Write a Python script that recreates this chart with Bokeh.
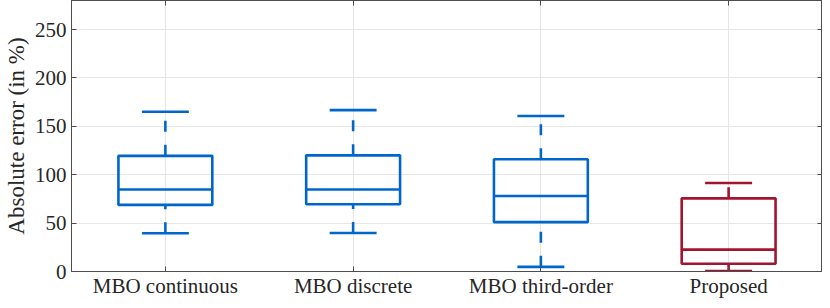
from bokeh.plotting import figure
from bokeh.models import LinearAxis, FixedTicker, Range1d, ColumnDataSource
from bokeh.embed import file_html
from bokeh.resources import INLINE

categories = ["MBO continuous", "MBO discrete", "MBO third-order", "Proposed"]
positions = [1, 2, 3, 4]
whisker_low = [39.5, 39.8, 4.8, 0.5]
q1 = [68.8, 69.5, 51.0, 8.0]
median = [84.7, 84.7, 78.0, 22.6]
q3 = [119.5, 120.0, 116.0, 75.6]
whisker_high = [165.0, 166.7, 160.6, 91.4]
colors = ["#0066cc", "#0066cc", "#0066cc", "#a2142f"]
y_ticks = [0, 50, 100, 150, 200, 250]

FONT = "Liberation Serif"
AX = "#4d4d4d"

p = figure(width=822, height=300, output_backend="svg", toolbar_location=None,
           x_range=Range1d(0.5, 4.5), y_range=Range1d(0, 280),
           min_border_left=0, min_border_right=0, min_border_top=0, min_border_bottom=0)
p.background_fill_color = "white"
p.outline_line_color = AX
p.outline_line_width = 1

src = ColumnDataSource(dict(x=positions, lo=whisker_low, q1=q1, med=median, q3=q3,
                            hi=whisker_high, c=colors,
                            xl=[v - 0.25 for v in positions], xr=[v + 0.25 for v in positions],
                            cl=[v - 0.125 for v in positions], cr=[v + 0.125 for v in positions]))

# whiskers (dashed)
p.segment(x0="x", y0="lo", x1="x", y1="q1", source=src, line_color="c", line_width=2.6,
          line_dash="11 13", line_cap="butt")
p.segment(x0="x", y0="q3", x1="x", y1="hi", source=src, line_color="c", line_width=2.6,
          line_dash="11 13", line_cap="butt")
# caps
p.segment(x0="cl", y0="lo", x1="cr", y1="lo", source=src, line_color="c", line_width=2.6)
p.segment(x0="cl", y0="hi", x1="cr", y1="hi", source=src, line_color="c", line_width=2.6)
# boxes
p.quad(left="xl", right="xr", bottom="q1", top="q3", source=src, fill_color=None,
       line_color="c", line_width=2.6)
# medians
p.segment(x0="xl", y0="med", x1="xr", y1="med", source=src, line_color="c", line_width=2.6)

# axes styling
p.xaxis.ticker = FixedTicker(ticks=positions)
p.xaxis.major_label_overrides = {pos: lab for pos, lab in zip(positions, categories)}
p.yaxis.ticker = FixedTicker(ticks=y_ticks)
p.yaxis.axis_label = "Absolute error (in %)"
for ax in (p.xaxis[0], p.yaxis[0]):
    ax.axis_line_color = AX
    ax.major_tick_line_color = AX
    ax.major_tick_in = 5
    ax.major_tick_out = 0
    ax.minor_tick_line_color = None
    ax.major_label_text_font = FONT
    ax.major_label_text_font_size = "21px"
    ax.major_label_text_color = "#262626"
    ax.axis_label_text_font = FONT
    ax.axis_label_text_font_size = "23px"
    ax.axis_label_text_font_style = "normal"
    ax.axis_label_text_color = "#262626"
p.xaxis.major_label_standoff = 2
p.yaxis.major_label_standoff = 5
p.yaxis.axis_label_standoff = 3

# mirrored axes (ticks only)
ra = LinearAxis(ticker=FixedTicker(ticks=y_ticks), major_label_text_font_size="0px",
                axis_line_color=AX, major_tick_line_color=AX, major_tick_in=5, major_tick_out=0,
                minor_tick_line_color=None, major_label_standoff=0)
ra.major_label_text_color = None
p.add_layout(ra, "right")
ta = LinearAxis(ticker=FixedTicker(ticks=positions), major_label_text_font_size="0px",
                axis_line_color=AX, major_tick_line_color=AX, major_tick_in=5, major_tick_out=0,
                minor_tick_line_color=None, major_label_standoff=0)
ta.major_label_text_color = None
p.add_layout(ta, "above")

p.xgrid.ticker = FixedTicker(ticks=positions)
p.ygrid.ticker = FixedTicker(ticks=y_ticks)
p.xgrid.grid_line_color = "#e6e6e6"
p.ygrid.grid_line_color = "#e6e6e6"

open("out.html", "w").write(file_html(p, INLINE))
